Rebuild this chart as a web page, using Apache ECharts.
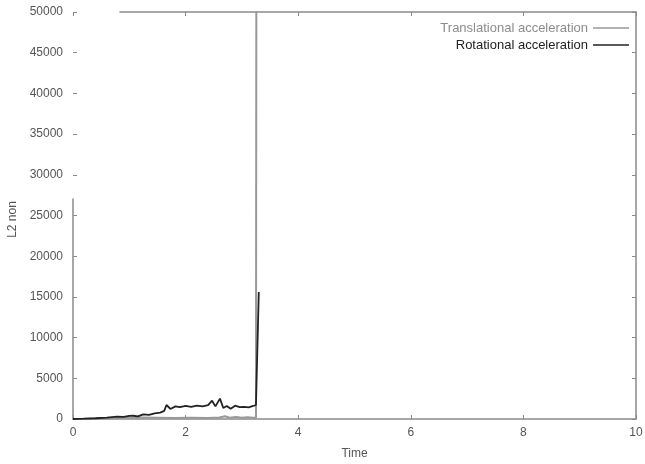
<!DOCTYPE html>
<html>
<head>
<meta charset="utf-8">
<script src="https://cdn.jsdelivr.net/npm/echarts@6/dist/echarts.min.js"></script>
<style>
  html, body { margin: 0; padding: 0; background: #fff; }
  #chart { width: 645px; height: 464px; }
</style>
</head>
<body>
<div id="chart"></div>
<script>
// Translational acceleration (L2 norm) over time
const transTime = [0, 0.3, 0.6, 0.9, 1.2, 1.5, 1.8, 2.1, 2.4, 2.6, 2.7, 2.78, 2.9, 3.0, 3.1, 3.2, 3.25, 3.26];
const transVal  = [0, 40, 80, 120, 180, 150, 120, 150, 130, 180, 330, 150, 260, 150, 200, 150, 150, 80000];

// Rotational acceleration (L2 norm) over time
const rotTime = [0, 0.2, 0.4, 0.6, 0.78, 0.9, 1.0, 1.07, 1.15, 1.25, 1.35, 1.45, 1.55, 1.62, 1.66, 1.73, 1.82, 1.9, 2.0, 2.1, 2.2, 2.3, 2.4, 2.47, 2.53, 2.61, 2.67, 2.73, 2.8, 2.88, 2.96, 3.04, 3.12, 3.2, 3.25, 3.26, 3.30];
const rotVal  = [0, 40, 90, 160, 280, 250, 380, 400, 330, 570, 500, 700, 780, 1000, 1720, 1230, 1550, 1450, 1600, 1500, 1650, 1550, 1700, 2250, 1550, 2500, 1350, 1600, 1250, 1640, 1450, 1500, 1440, 1600, 1720, 1700, 15600];

// Axis ranges and ticks
const xTicks = [0, 2, 4, 6, 8, 10];
const yTicks = [0, 5000, 10000, 15000, 20000, 25000, 30000, 35000, 40000, 45000, 50000];

const seriesNames = ['Translational acceleration', 'Rotational acceleration'];

const frameColor = '#8a8a8a';
const textColor = '#555';
const font = 'Liberation Sans, Arial, Helvetica, sans-serif';

const chart = echarts.init(document.getElementById('chart'));

const pairs = (xs, ys) => xs.map((x, i) => [x, ys[i]]);
const plain = v => String(v);

const gridBase = { containLabel: false, outerBoundsMode: 'none' };

chart.setOption({
  animation: false,
  backgroundColor: '#fff',
  textStyle: { fontFamily: font },
  grid: [
    Object.assign({ left: 73, right: 9, top: 12, bottom: 45 }, gridBase),   // main plot
    Object.assign({ left: 120, right: 9, top: 12, bottom: 45 }, gridBase),  // top border segment
    Object.assign({ left: 73, width: 10, top: 199, bottom: 45 }, gridBase)  // lower left border segment
  ],
  legend: {
    orient: 'vertical',
    right: 11,
    top: 16,
    align: 'right',
    icon: 'rect',
    itemWidth: 36,
    itemHeight: 1.5,
    itemGap: 3,
    textStyle: { fontSize: 13, fontFamily: font, lineHeight: 14 },
    data: [
      { name: seriesNames[0], textStyle: { color: '#8c8c8c' } },
      { name: seriesNames[1], textStyle: { color: '#222' } }
    ]
  },
  xAxis: [
    {
      gridIndex: 0, type: 'value', position: 'bottom',
      min: xTicks[0], max: xTicks[xTicks.length - 1], interval: 2,
      name: 'Time', nameLocation: 'middle', nameGap: 29,
      nameTextStyle: { color: textColor, fontSize: 12, fontFamily: font },
      axisLine: { show: true, onZero: false, lineStyle: { color: frameColor, width: 1.5 } },
      axisTick: { show: true, inside: true, length: 4, lineStyle: { color: frameColor } },
      axisLabel: { color: textColor, fontSize: 12, margin: 8, formatter: plain },
      splitLine: { show: false }
    },
    {
      gridIndex: 0, type: 'value', position: 'top',
      min: xTicks[0], max: xTicks[xTicks.length - 1], interval: 2,
      axisLine: { show: false, onZero: false },
      axisTick: { show: true, inside: true, length: 4, lineStyle: { color: frameColor } },
      axisLabel: { show: false },
      splitLine: { show: false }
    },
    {
      gridIndex: 1, type: 'value', position: 'top', min: 0, max: 1,
      axisLine: { show: true, onZero: false, lineStyle: { color: frameColor, width: 1.5 } },
      axisTick: { show: false }, axisLabel: { show: false }, splitLine: { show: false }
    },
    {
      gridIndex: 2, type: 'value', position: 'bottom', min: 0, max: 1, show: false
    }
  ],
  yAxis: [
    {
      gridIndex: 0, type: 'value', position: 'left',
      min: yTicks[0], max: yTicks[yTicks.length - 1], interval: 5000,
      name: 'L2 non', nameLocation: 'middle', nameGap: 52,
      nameTextStyle: { color: textColor, fontSize: 12, fontFamily: font, padding: [0, 0, 0, -8] },
      axisLine: { show: false, onZero: false },
      axisTick: { show: true, inside: true, length: 4, lineStyle: { color: frameColor } },
      axisLabel: { color: textColor, fontSize: 12, margin: 10, formatter: plain },
      splitLine: { show: false }
    },
    {
      gridIndex: 0, type: 'value', position: 'right',
      min: yTicks[0], max: yTicks[yTicks.length - 1], interval: 5000,
      axisLine: { show: true, onZero: false, lineStyle: { color: frameColor, width: 1.5 } },
      axisTick: { show: true, inside: true, length: 4, lineStyle: { color: frameColor } },
      axisLabel: { show: false },
      splitLine: { show: false }
    },
    {
      gridIndex: 1, type: 'value', min: 0, max: 1, show: false
    },
    {
      gridIndex: 2, type: 'value', position: 'left', min: 0, max: 1,
      axisLine: { show: true, onZero: false, lineStyle: { color: frameColor, width: 1.5 } },
      axisTick: { show: false }, axisLabel: { show: false }, splitLine: { show: false }
    }
  ],
  series: [
    {
      name: seriesNames[0], type: 'line', xAxisIndex: 0, yAxisIndex: 0,
      data: pairs(transTime, transVal),
      symbol: 'none', clip: true,
      lineStyle: { color: '#999', width: 2 },
      itemStyle: { color: '#999' }
    },
    {
      name: seriesNames[1], type: 'line', xAxisIndex: 0, yAxisIndex: 0,
      data: pairs(rotTime, rotVal),
      symbol: 'none', clip: true,
      lineStyle: { color: '#222', width: 1.8 },
      itemStyle: { color: '#222' }
    }
  ]
});
</script>
</body>
</html>
